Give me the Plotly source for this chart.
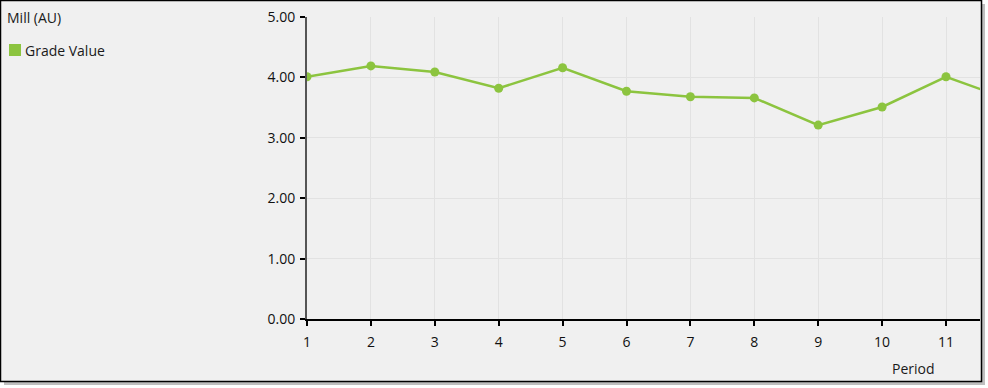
import plotly.graph_objects as go

periods = [1, 2, 3, 4, 5, 6, 7, 8, 9, 10, 11, 12]
grade_value = [4.01, 4.19, 4.09, 3.82, 4.16, 3.77, 3.68, 3.66, 3.21, 3.51, 4.01, 3.63]
series_name = "Grade Value"
chart_title = "Mill (AU)"
x_title = "Period"
y_ticks = [0, 1, 2, 3, 4, 5]
y_tick_labels = ["0.00", "1.00", "2.00", "3.00", "4.00", "5.00"]
x_ticks = [1, 2, 3, 4, 5, 6, 7, 8, 9, 10, 11]

W, H = 988, 388
L, R, T, B = 307, 8, 17, 69
PW, PH = W - L - R, H - T - B

def px(xp):
    return (xp - L) / PW

def py(yp):
    return (H - B - yp) / PH

green = "#8cc43f"
font = "Segoe UI, Open Sans, Noto Sans, sans-serif"
FS = 14

fig = go.Figure()
fig.add_trace(go.Scatter(
    x=periods, y=grade_value, mode="lines+markers", name=series_name,
    line=dict(color=green, width=2.5), marker=dict(color=green, size=9),
    showlegend=False, cliponaxis=True,
))

shapes = [
    dict(type="rect", xref="paper", yref="paper", x0=px(4), x1=px(985), y0=py(4), y1=py(385),
         line=dict(width=0), fillcolor="rgba(0,0,0,0.25)", layer="below"),
    dict(type="rect", xref="paper", yref="paper", x0=px(0.5), x1=px(981.5), y0=py(0.5), y1=py(381.5),
         line=dict(color="black", width=1.5), fillcolor="#f0f0f0", layer="below"),
    dict(type="rect", xref="paper", yref="paper", x0=px(9), x1=px(21), y0=py(44), y1=py(56),
         line=dict(width=0), fillcolor=green),
]

annotations = [
    dict(text=chart_title, xref="paper", yref="paper", x=px(5), y=py(17), xanchor="left",
         yanchor="middle", showarrow=False, font=dict(family=font, size=FS, color="#1a1a1a")),
    dict(text=series_name, xref="paper", yref="paper", x=px(23), y=py(50), xanchor="left",
         yanchor="middle", showarrow=False, font=dict(family=font, size=FS, color="#1a1a1a")),
    dict(text=x_title, xref="paper", yref="paper", x=px(913), y=py(368), xanchor="center",
         yanchor="middle", showarrow=False, font=dict(family=font, size=FS, color="#1a1a1a")),
]

fig.update_layout(
    width=W, height=H, margin=dict(l=L, r=R, t=T, b=B),
    paper_bgcolor="white", plot_bgcolor="#f0f0f0",
    shapes=shapes, annotations=annotations, showlegend=False,
    font=dict(family=font, size=FS, color="#111"),
)
fig.update_xaxes(
    range=[1, 1 + (980 - 307) / 63.9], tickvals=x_ticks, ticktext=[str(v) for v in x_ticks],
    showgrid=True, gridcolor="#e2e2e2", gridwidth=1, zeroline=False,
    showline=True, linecolor="black", linewidth=1.5, ticks="outside", ticklen=5,
    tickcolor="black", tickwidth=1.5, fixedrange=True, ticklabelstandoff=4,
)
fig.update_yaxes(
    range=[0, 5], tickvals=y_ticks, ticktext=y_tick_labels,
    showgrid=True, gridcolor="#e2e2e2", gridwidth=1, zeroline=False,
    showline=True, linecolor="#555", linewidth=2, ticks="outside", ticklen=5,
    tickcolor="black", tickwidth=1.5, fixedrange=True, ticklabelstandoff=2,
)
fig.write_html("out.html")
